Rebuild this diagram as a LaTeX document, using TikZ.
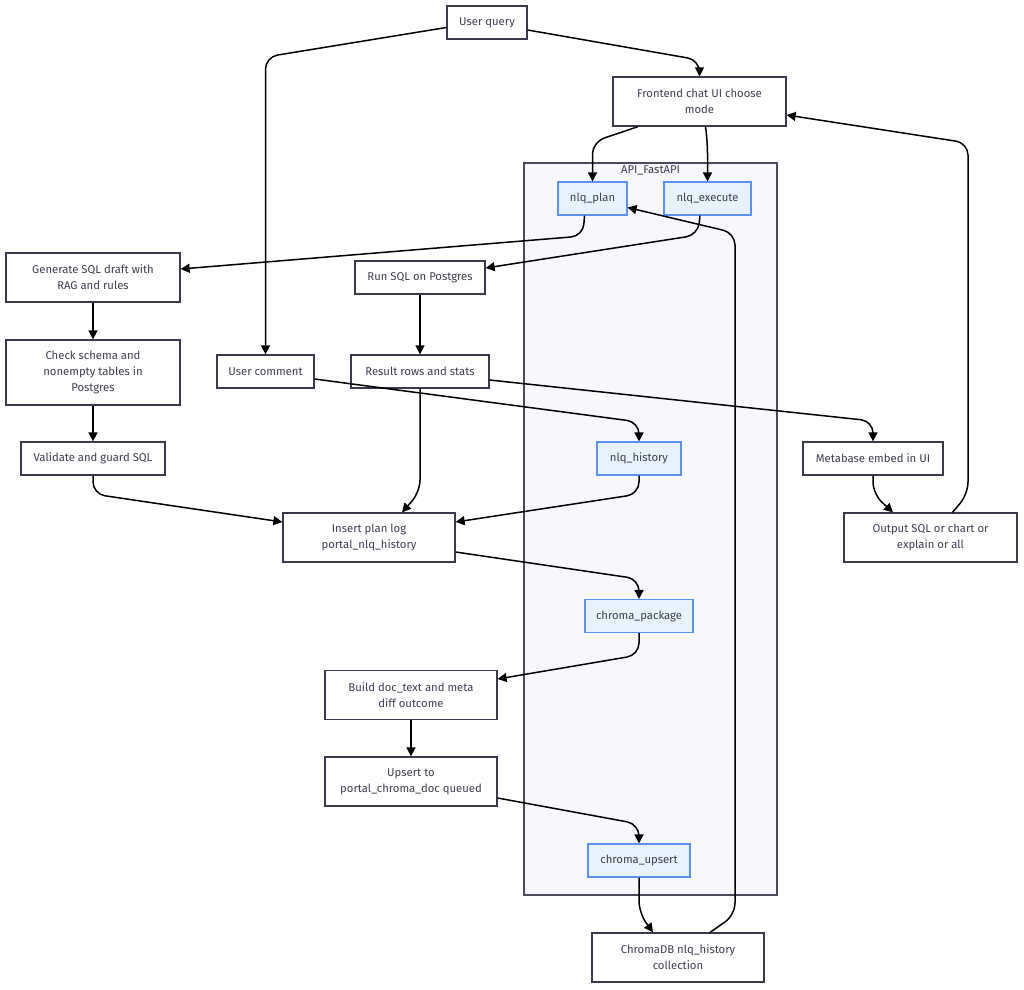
\documentclass[tikz,border=0pt]{standalone}
\usepackage{fontspec}
\setmainfont{Fira Sans}
\usepackage{xcolor}
\usetikzlibrary{arrows.meta, positioning, fit, calc}

\definecolor{boxline}{HTML}{3A3A4C}
\definecolor{boxtext}{HTML}{3F3F50}
\definecolor{apiline}{HTML}{4A4A5A}
\definecolor{apifill}{HTML}{F7F7FC}
\definecolor{svcline}{HTML}{5E90F0}
\definecolor{svcfill}{HTML}{E8F1FE}

\begin{document}
\begin{tikzpicture}[
    x=1pt, y=-1pt,
    box/.style={draw=boxline, line width=1.3pt, rectangle, fill=white, minimum height=33pt, inner sep=2pt, text centered, align=center, text=boxtext, font=\fontsize{11.3}{16}\selectfont},
    tallbox/.style={box, minimum height=49pt},
    svcbox/.style={box, draw=svcline, fill=svcfill, line width=1.1pt},
    arrow/.style={line width=1.5pt, black, rounded corners=12pt, -{Triangle[length=9pt,width=9pt]}}
]
\useasboundingbox (0,0) rectangle (1024,989);

% API group
\node (api) [draw=apiline, line width=1.3pt, fill=apifill, minimum width=253pt, minimum height=732pt, inner sep=0pt,
    label={[anchor=north, inner sep=2pt, text=boxtext, font=\fontsize{11.3}{12}\selectfont, yshift=-1pt]north:API\_FastAPI}] at (650.5,529) {};

% Entry
\node (query) [box, minimum width=80pt] at (487,22.5) {User query};
\node (front) [tallbox, minimum width=173pt] at (699.5,101.5) {Frontend chat UI choose\\mode};

% API endpoints
\node (plan) [svcbox, minimum width=69pt] at (592.5,198.5) {nlq\_plan};
\node (exec) [svcbox, minimum width=87pt] at (707.5,198.5) {nlq\_execute};
\node (hist) [svcbox, minimum width=84pt] at (639,458.5) {nlq\_history};
\node (pack) [svcbox, minimum width=108pt] at (639,616) {chroma\_package};
\node (cups) [svcbox, minimum width=102pt] at (639,860.5) {chroma\_upsert};

% Plan branch
\node (gen) [tallbox, minimum width=174pt] at (93,277.5) {Generate SQL draft with\\RAG and rules};
\node (check) [box, minimum width=174pt, minimum height=65pt] at (93,372.5) {Check schema and\\nonempty tables in\\Postgres};
\node (valid) [box, minimum width=144pt] at (93,458.5) {Validate and guard SQL};

% Execute branch
\node (run) [box, minimum width=130pt] at (420,277.5) {Run SQL on Postgres};
\node (rows) [box, minimum width=138pt] at (420,371.5) {Result rows and stats};
\node (comment) [box, minimum width=97pt] at (265.5,371.5) {User comment};
\node (meta) [box, minimum width=140pt] at (873,458.5) {Metabase embed in UI};
\node (out) [tallbox, minimum width=173pt] at (930.5,537.5) {Output SQL or chart or\\explain or all};

% Logging and Chroma
\node (log) [tallbox, minimum width=172pt] at (369,537.5) {Insert plan log\\portal\_nlq\_history};
\node (doc) [tallbox, minimum width=172pt] at (411,695) {Build doc\_text and meta\\diff outcome};
\node (queue) [tallbox, minimum width=172pt] at (411,781.5) {Upsert to\\portal\_chroma\_doc queued};
\node (chroma) [tallbox, minimum width=172pt] at (678,957.5) {ChromaDB nlq\_history\\collection};

% Connectors
\draw [arrow] ([yshift=-7.5pt]query.east) -- (front.north |- 0,60) -- (front.north);
\draw [arrow] ([yshift=-5pt]query.west) -- (comment.north |- 0,57) -- (comment.north);
\draw [arrow] ([xshift=-61.5pt]front.south) -- (plan.north |- 0,142) -- (plan.north);
\draw [arrow] ([xshift=6pt]front.south) -- (exec.north |- 0,142) -- (exec.north);
\draw [arrow] ([xshift=-8pt]plan.south) -- (583,236) -- ([yshift=8.5pt]gen.east);
\draw [arrow] ([xshift=-7.5pt]exec.south) -- (698,235) -- ([yshift=9.5pt]run.east);
\draw [arrow] (gen) -- (check);
\draw [arrow] (check) -- (valid);
\draw [arrow] (run) -- (rows);
\draw [arrow] ([yshift=-7.5pt]comment.east) -- (hist.north |- 0,422) -- (hist.north);
\draw [arrow] ([yshift=-8.5pt]rows.east) -- (meta.north |- 0,421) -- (meta.north);
\draw [arrow] (rows.south) -- (420,492) -- ([xshift=33pt]log.north);
\draw [arrow] (valid.south) -- (93,494) -- ([yshift=15.5pt]log.west);
\draw [arrow] (hist.south) -- (639,494) -- ([yshift=15.5pt]log.east);
\draw [arrow] (meta.south) -- (873,494) -- ([xshift=-37.5pt]out.north);
\draw [arrow] ([xshift=22pt]out.north) -- (968,494) -- (968,143) -- ([yshift=-13.5pt]front.east);
\draw [arrow] ([yshift=-14.5pt]log.east) -- (pack.north |- 0,579) -- (pack.north);
\draw [arrow] (pack.south) -- (639,655) -- ([yshift=16pt]doc.east);
\draw [arrow] (doc) -- (queue);
\draw [arrow] ([yshift=-16.5pt]queue.east) -- (cups.north |- 0,824) -- (cups.north);
\draw [arrow] (cups.south) -- (639,913) -- ([xshift=-25pt]chroma.north);
\draw [arrow] ([xshift=32pt]chroma.north) -- (735,915) -- (735,233) -- ([yshift=-9pt]plan.east);

\end{tikzpicture}
\end{document}
